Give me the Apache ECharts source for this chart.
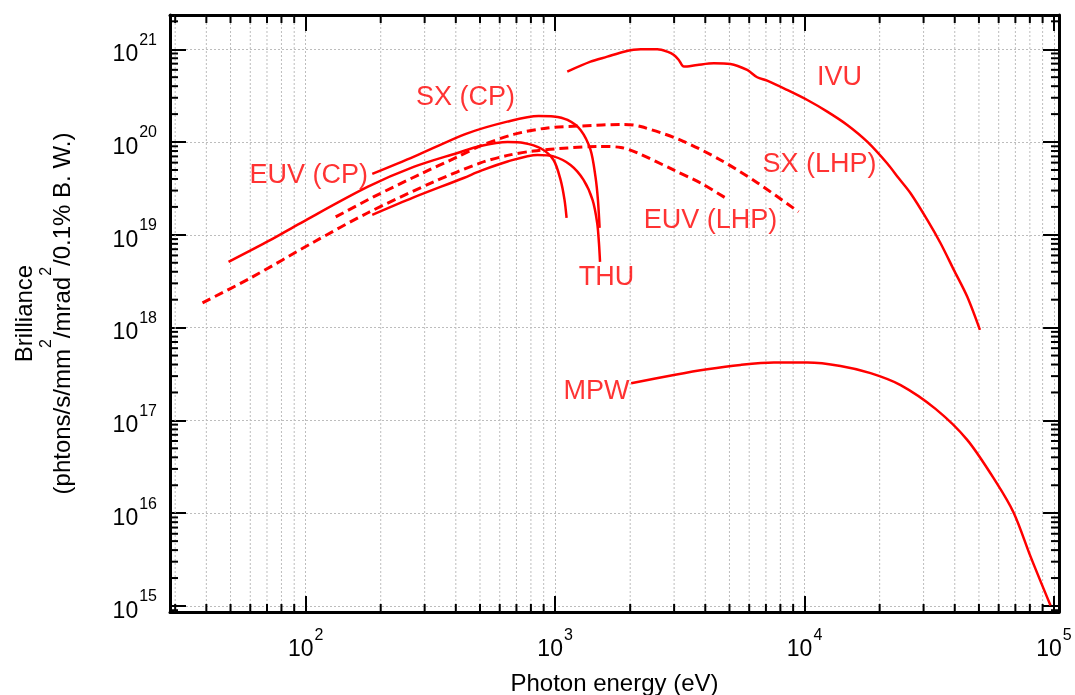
<!DOCTYPE html>
<html>
<head>
<meta charset="utf-8">
<script src="https://cdn.jsdelivr.net/npm/echarts@6/dist/echarts.min.js"></script>
<style>
  html, body { margin: 0; padding: 0; background: #fff; }
  #chart { width: 1075px; height: 695px; }
</style>
</head>
<body>
<div id="chart"></div>
<script>
// photon energy (eV) / brilliance
var ivuE = [1119, 1387, 1619, 1888, 2203, 2570, 2818, 2994, 3133, 3284, 3715, 4329, 5047, 5888, 6457, 7080, 8525, 10260, 12330, 14830, 17830, 21420, 23860, 26600, 31040, 35090, 39660, 44860, 50460];
var ivuB = [5.74e20, 7.35e20, 8.32e20, 9.42e20, 1.0e21, 1.0e21, 9.42e20, 8.69e20, 7.67e20, 6.5e20, 6.78e20, 7.06e20, 6.95e20, 5.98e20, 4.99e20, 4.59e20, 3.64e20, 2.84e20, 2.13e20, 1.53e20, 1.01e20, 5.91e19, 4.07e19, 2.81e19, 1.45e19, 8.12e18, 4.19e18, 2.16e18, 9.45e17];

var sxCpE = [185, 272, 445, 643, 859, 986, 1122, 1265, 1387, 1452, 1485, 1508];
var sxCpB = [4.53e19, 6.96e19, 1.24e20, 1.66e20, 1.91e20, 1.89e20, 1.73e20, 1.35e20, 8.22e19, 4.21e19, 2.38e19, 1.19e19];

var euvCpE = [49.1, 72.4, 95.5, 177, 271, 406, 502, 645, 748, 875, 986, 1052, 1091, 1112];
var euvCpB = [5.11e18, 8.81e18, 1.34e19, 3.28e19, 5.39e19, 7.63e19, 9.08e19, 1.0e20, 9.78e19, 8.57e19, 6.41e19, 3.91e19, 2.38e19, 1.52e19];

var thuE = [185, 271, 430, 502, 645, 851, 986, 1153, 1300, 1413, 1475, 1499, 1514];
var thuB = [1.64e19, 2.53e19, 4.10e19, 4.89e19, 6.18e19, 7.26e19, 7.0e19, 5.66e19, 3.91e19, 2.38e19, 1.34e19, 8.18e18, 5.11e18];

var sxLhpE = [132, 187, 289, 406, 502, 682, 933, 1265, 1884, 2203, 3184, 4603, 6486, 9462];
var sxLhpB = [1.56e19, 2.56e19, 4.53e19, 6.91e19, 9.08e19, 1.21e20, 1.42e20, 1.49e20, 1.55e20, 1.47e20, 1.05e20, 6.41e19, 3.62e19, 1.77e19];

var euvLhpE = [38.6, 60.3, 108, 177, 326, 502, 645, 820, 1122, 1479, 1832, 2143, 2985, 3828, 4819];
var euvLhpB = [1.85e18, 3.44e18, 8.38e18, 1.72e19, 3.72e19, 5.96e19, 7.18e19, 8.02e19, 8.63e19, 8.97e19, 8.75e19, 7.63e19, 5.0e19, 3.62e19, 2.50e19];

var mpwE = [2018, 2992, 4074, 5534, 7534, 10260, 13930, 18390, 24270, 33500, 44870, 58340, 69050, 80540, 96830];
var mpwB = [2.52e17, 3.09e17, 3.56e17, 3.96e17, 4.2e17, 4.2e17, 3.86e17, 3.23e17, 2.40e17, 1.33e17, 6.17e16, 2.2e16, 1.0e16, 3.4e15, 1.01e15];

// curve names and where they sit
var labelNames = ['IVU', 'SX (LHP)', 'EUV (LHP)', 'THU', 'SX (CP)', 'EUV (CP)', 'MPW'];
var labelE = [13800, 11480, 4200, 1607, 437, 103, 1466];
var labelB = [4.91e20, 5.66e19, 1.41e19, 3.44e18, 2.98e20, 4.4e19, 2.03e17];

// axis range and decades
var xMin = 28.6, xMax = 104700;
var yMin = 8.61e14, yMax = 2.34e21;
var xDecades = [10, 100, 1000, 10000];
var yDecades = [1e14, 1e15, 1e16, 1e17, 1e18, 1e19, 1e20, 1e21];

var RED = '#ff0000';
var FONT = '"Liberation Sans", Arial, sans-serif';

function zip(a, b) {
    return a.map(function (v, i) { return [v, b[i]]; });
}

// minor tick values (2..9 in every decade) that fall inside the range
function minorTicks(decades, lo, hi) {
    var out = [];
    decades.forEach(function (d) {
        for (var k = 2; k <= 9; k++) {
            var v = d * k;
            if (v > lo && v < hi) out.push(v);
        }
    });
    return out;
}

var minorData = [];
minorTicks(xDecades, xMin, xMax).forEach(function (v) { minorData.push([v, yMin, 0]); });
minorTicks(yDecades, yMin, yMax).forEach(function (v) { minorData.push([xMin, v, 1]); });

function renderMinor(params, api) {
    var cs = params.coordSys;
    var p = api.coord([api.value(0), api.value(1)]);
    var tick = { stroke: '#000', lineWidth: 2 };
    var len = 8;
    if (api.value(2) === 0) {
        var x = p[0];
        return {
            type: 'group',
            children: [
                { type: 'line', shape: { x1: x, y1: cs.y, x2: x, y2: cs.y + cs.height },
                  style: { stroke: '#bdbdbd', lineWidth: 1, lineDash: [2, 2] } },
                { type: 'line', shape: { x1: x, y1: cs.y + cs.height, x2: x, y2: cs.y + cs.height - len }, style: tick },
                { type: 'line', shape: { x1: x, y1: cs.y, x2: x, y2: cs.y + len }, style: tick }
            ]
        };
    }
    var y = p[1];
    return {
        type: 'group',
        children: [
            { type: 'line', shape: { x1: cs.x, y1: y, x2: cs.x + len, y2: y }, style: tick },
            { type: 'line', shape: { x1: cs.x + cs.width, y1: y, x2: cs.x + cs.width - len, y2: y }, style: tick }
        ]
    };
}

function powLabel(v) {
    var lg = Math.log10(v);
    var e = Math.round(lg);
    if (Math.abs(lg - e) > 1e-6) return '';
    return '{b|10}{s|' + e + '}';
}

var labelRich = {
    b: { fontSize: 23, lineHeight: 23, padding: [11, 0, 0, 0], color: '#000', fontFamily: FONT },
    s: { fontSize: 16, lineHeight: 16, padding: [0, 0, 18, 1], color: '#000', fontFamily: FONT }
};

var frame = { show: true, lineStyle: { color: '#000', width: 3 } };
var majorTick = { show: true, inside: true, length: 16, lineStyle: { color: '#000', width: 2 } };

function lineSeries(name, e, b, dashed) {
    return {
        name: name,
        type: 'line',
        data: zip(e, b),
        showSymbol: false,
        smooth: 0.3,
        z: 3,
        lineStyle: { color: RED, width: dashed ? 3 : 2.5, type: dashed ? [9, 5] : 'solid' }
    };
}

var chart = echarts.init(document.getElementById('chart'), null, { renderer: 'canvas' });

var option = {
    animation: false,
    backgroundColor: '#fff',
    grid: { left: 170, top: 15, right: 16, bottom: 83, outerBoundsMode: 'none' },
    xAxis: [
        {
            type: 'log', logBase: 10, min: xMin, max: xMax, position: 'bottom',
            axisLine: frame, axisTick: majorTick,
            axisLabel: { formatter: powLabel, rich: labelRich, margin: 21 },
            splitLine: { show: true, lineStyle: { color: '#bdbdbd', width: 1, type: [2, 2] } },
            name: 'Photon energy (eV)', nameLocation: 'middle', nameGap: 60,
            nameTextStyle: { fontSize: 24, color: '#000', fontFamily: FONT }
        },
        {
            type: 'log', logBase: 10, min: xMin, max: xMax, position: 'top',
            axisLine: frame, axisTick: majorTick,
            axisLabel: { show: false }, splitLine: { show: false }
        }
    ],
    yAxis: [
        {
            type: 'log', logBase: 10, min: yMin, max: yMax, position: 'left',
            axisLine: frame, axisTick: majorTick,
            axisLabel: { formatter: powLabel, rich: labelRich, margin: 13 },
            splitLine: { show: true, lineStyle: { color: '#bdbdbd', width: 1, type: [2, 2] } },
            name: '{a|Brilliance}\n{b|(phtons/s/mm}{s|2}{b|/mrad}{s|2}{b|/0.1% B. W.)}',
            nameLocation: 'middle', nameRotate: 90, nameGap: 101,
            nameTextStyle: {
                color: '#000', fontSize: 24, fontFamily: FONT,
                rich: {
                    a: { fontSize: 24, lineHeight: 24, padding: [0, 0, 15, 0], color: '#000', fontFamily: FONT },
                    b: { fontSize: 24, lineHeight: 24, padding: [12, 0, 0, 0], color: '#000', fontFamily: FONT },
                    s: { fontSize: 16, lineHeight: 16, padding: [0, 1, 20, 1], color: '#000', fontFamily: FONT }
                }
            }
        },
        {
            type: 'log', logBase: 10, min: yMin, max: yMax, position: 'right',
            axisLine: frame, axisTick: majorTick,
            axisLabel: { show: false }, splitLine: { show: false }
        }
    ],
    series: [
        {
            name: 'minor', type: 'custom', renderItem: renderMinor,
            data: minorData, z: 1, silent: true, clip: false
        },
        lineSeries('IVU', ivuE, ivuB, false),
        lineSeries('SX (CP)', sxCpE, sxCpB, false),
        lineSeries('EUV (CP)', euvCpE, euvCpB, false),
        lineSeries('THU', thuE, thuB, false),
        lineSeries('SX (LHP)', sxLhpE, sxLhpB, true),
        lineSeries('EUV (LHP)', euvLhpE, euvLhpB, true),
        lineSeries('MPW', mpwE, mpwB, false),
        {
            name: 'labels', type: 'scatter', symbolSize: 1, z: 4, silent: true,
            itemStyle: { color: 'rgba(0,0,0,0)' },
            label: { show: true, position: 'inside', formatter: '{b}', color: RED, fontSize: 27, fontFamily: FONT },
            data: labelNames.map(function (n, i) { return { name: n, value: [labelE[i], labelB[i]] }; })
        }
    ]
};

chart.setOption(option);

window.addEventListener('resize', function () {
    chart.resize();
});
</script>
</body>
</html>
